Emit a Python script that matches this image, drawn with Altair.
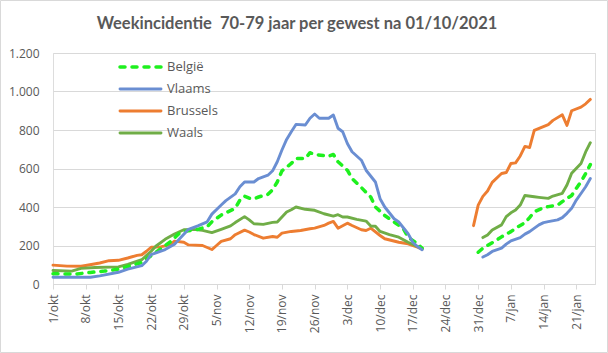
import altair as alt
import pandas as pd

TITLE = "Weekincidentie  70-79 jaar per gewest na 01/10/2021"
SERIES = ["België", "Vlaams", "Brussels", "Waals"]
COLORS = ["#1EF01E", "#6A8ED2", "#ED7D31", "#70AD47"]
DRAW_ORDER = ["Brussels", "Waals", "België", "Vlaams"]
START = "2021-10-01"          # day 0
END_DAY = 116                 # 25/jan
MONTHS_NL = ["jan", "feb", "mrt", "apr", "mei", "jun", "jul", "aug", "sep", "okt", "nov", "dec"]
X_TICK_DAYS = list(range(0, 113, 7))
Y_TICKS = [0, 200, 400, 600, 800, 1000, 1200]

# values (day offset from 1/okt/2021)
BELGIE_DAYS = [0, 5, 8, 11, 14, 16, 19, 21, 23, 25, 27, 29, 31, 33, 34, 36, 39, 40, 41, 42, 43, 44, 46, 47, 48, 49,
               51, 52, 54, 55, 56, 59, 60, 61, 63, 64, 66, 68, 69, 71, 73, 75, 76, 78, 79,
               91, 92, 93, 95, 96, 98, 99, 101, 102, 103, 105, 106, 108, 109, 111, 112, 113, 114, 115]
BELGIE_VALS = [53, 52, 60, 67, 77, 91, 112, 147, 182, 217, 263, 277, 284, 298, 323, 358, 393, 436, 456, 446, 443, 452,
               466, 490, 530, 588, 626, 652, 652, 682, 673, 664, 673, 635, 591, 548, 501, 452, 400, 356, 322, 287, 243,
               209, 186,
               165, 186, 200, 229, 245, 272, 290, 318, 345, 375, 397, 402, 410, 428, 460, 497, 531, 574, 620]

VLAAMS_DAYS = [0, 8, 10, 14, 16, 19, 20, 21, 24, 26, 28, 29, 31, 33, 34, 36, 37, 39, 40, 41, 43, 44, 46, 47, 48, 49,
               50, 51, 52, 54, 55, 56, 57, 59, 60, 61, 62, 63, 64, 66, 67, 69, 70, 71, 73, 74, 76, 77, 78, 79,
               92, 93, 94, 96, 97, 98, 100, 101, 102, 104, 105, 106, 108, 109, 110, 111, 112, 113, 114, 115]
VLAAMS_VALS = [35, 35, 42, 61, 77, 95, 118, 153, 179, 207, 258, 284, 302, 323, 363, 410, 433, 468, 505, 530, 530, 548,
               565, 588, 635, 696, 751, 791, 829, 826, 861, 883, 861, 861, 878, 809, 791, 730, 687, 643, 591, 530, 443,
               400, 339, 322, 261, 217, 195, 178,
               140, 152, 169, 186, 207, 224, 241, 259, 272, 307, 319, 324, 333, 345, 367, 393, 436, 470, 505, 548]

BRUSSELS_DAYS = [0, 3, 6, 7, 10, 12, 14, 16, 18, 19, 20, 21, 23, 25, 26, 28, 29, 32, 34, 35, 36, 38, 39, 41, 42, 43,
                 45, 47, 48, 49, 51, 53, 55, 56, 58, 59, 60, 61, 63, 64, 66, 67, 68, 70, 71, 74, 76, 78, 79,
                 90, 91, 92, 93, 94, 96, 97, 98, 99, 100, 101, 102, 103, 106, 107, 109, 110, 111, 113, 114, 115]
BRUSSELS_VALS = [98, 93, 92, 96, 109, 121, 123, 135, 149, 152, 170, 191, 193, 203, 223, 217, 203, 200, 179, 200, 221,
                 235, 256, 280, 270, 257, 238, 247, 243, 264, 273, 278, 287, 290, 304, 316, 325, 290, 316, 304, 282,
                 278, 290, 252, 235, 217, 209, 191, 181,
                 303, 410, 455, 483, 528, 574, 579, 626, 629, 665, 715, 709, 798, 828, 850, 879, 824, 900, 919, 936,
                 959]

WAALS_DAYS = [0, 4, 6, 9, 14, 16, 19, 21, 22, 24, 26, 28, 30, 32, 34, 36, 38, 39, 41, 42, 43, 45, 47, 48, 50, 51, 52,
              54, 56, 58, 60, 61, 62, 63, 65, 67, 68, 69, 70, 72, 74, 76, 78, 79,
              92, 93, 94, 96, 97, 98, 99, 100, 101, 103, 104, 106, 107, 109, 110, 111, 113, 114, 115]
WAALS_VALS = [70, 67, 81, 86, 89, 102, 126, 170, 196, 232, 260, 282, 284, 279, 267, 284, 302, 319, 350, 333, 313, 310,
              320, 322, 374, 386, 400, 388, 383, 365, 353, 360, 348, 348, 336, 327, 301, 300, 273, 257, 243, 217, 195,
              186,
              241, 255, 281, 307, 350, 370, 384, 410, 460, 453, 450, 445, 457, 471, 514, 575, 626, 686, 734]

SERIES_DATA = {
    "België": (BELGIE_DAYS, BELGIE_VALS),
    "Vlaams": (VLAAMS_DAYS, VLAAMS_VALS),
    "Brussels": (BRUSSELS_DAYS, BRUSSELS_VALS),
    "Waals": (WAALS_DAYS, WAALS_VALS),
}
COLOR_OF = dict(zip(SERIES, COLORS))
GAP_DAYS = 10  # no data between 20/dec and 29/dec

start = pd.Timestamp(START)
rows = []
for name, (days, vals) in SERIES_DATA.items():
    seg = 0
    prev = None
    for d, v in zip(days, vals):
        if prev is not None and d - prev >= GAP_DAYS:
            seg += 1
        prev = d
        rows.append({"series": name, "date": (start + pd.Timedelta(days=d)).strftime("%Y-%m-%d"),
                     "value": v, "seg": seg})
df = pd.DataFrame(rows)


def dt(day):
    t = start + pd.Timedelta(days=day)
    return alt.DateTime(year=t.year, month=t.month, date=t.day, utc=True)


month_arr = "[" + ",".join("'" + m + "'" for m in MONTHS_NL) + "]"

x_enc = alt.X(
    "date:T",
    scale=alt.Scale(type="utc", domain=[dt(0), dt(END_DAY)], nice=False),
    axis=alt.Axis(
        values=[dt(d) for d in X_TICK_DAYS],
        labelExpr="utcdate(datum.value) + '/' + " + month_arr + "[utcmonth(datum.value)]",
        labelAngle=270,
        labelAlign="right",
        labelBaseline="middle",
        labelFont="Open Sans",
        labelFontSize=12,
        labelColor="#595959",
        labelPadding=5,
        labelOverlap=False,
        labelFlush=False,
        tickSize=5,
        tickColor="#D9D9D9",
        domainColor="#D9D9D9",
        grid=False,
        title=None,
    ),
)
y_enc = alt.Y(
    "value:Q",
    scale=alt.Scale(domain=[0, 1200], nice=False),
    axis=alt.Axis(
        values=Y_TICKS,
        labelExpr="replace(format(datum.value, ','), ',', '.')",
        labelFont="Open Sans",
        labelFontSize=12,
        labelColor="#595959",
        labelPadding=14,
        ticks=False,
        domain=False,
        grid=True,
        gridColor="#D9D9D9",
        gridWidth=1,
        title=None,
    ),
)

layers = []
# chart border
layers.append(
    alt.Chart(pd.DataFrame({"a": [0]})).mark_rect(fillOpacity=0, stroke="#D9D9D9", strokeWidth=1).encode(
        x=alt.value(-52.5), x2=alt.value(554.5), y=alt.value(-52.5), y2=alt.value(299.5)
    )
)
# title as text above the plot (keep the double space visible)
layers.append(
    alt.Chart(pd.DataFrame({"t": [TITLE.replace("  ", " \u00a0")]})).mark_text(
        font="Lato", fontSize=16.5, fontWeight="bold", color="#595959", align="center", baseline="middle"
    ).encode(x=alt.value(244), y=alt.value(-29), text="t:N")
)
for name in DRAW_ORDER:
    color = COLOR_OF[name]
    dashed = name == "België"
    mark_kw = dict(color=color, strokeWidth=3.5 if dashed else 2.9, strokeCap="round", strokeJoin="round")
    if dashed:
        mark_kw["strokeDash"] = [5, 7]
    layers.append(
        alt.Chart(df[df.series == name]).mark_line(**mark_kw).encode(x=x_enc, y=y_enc, detail="seg:N")
    )

# legend inside plot, top-left
for i, (name, color) in enumerate(zip(SERIES, COLORS)):
    ypos = 14 + 22 * i
    dashed = name == "België"
    rkw = dict(color=color, strokeWidth=3.5 if dashed else 2.9, strokeCap="round")
    if dashed:
        rkw["strokeDash"] = [5, 7]
    ld = pd.DataFrame({"name": [name]})
    layers.append(alt.Chart(ld).mark_rule(**rkw).encode(x=alt.value(67), x2=alt.value(108), y=alt.value(ypos)))
    layers.append(
        alt.Chart(ld).mark_text(align="left", baseline="middle", font="Open Sans", fontSize=13, color="#595959").encode(
            x=alt.value(114), y=alt.value(ypos), text="name:N"
        )
    )

chart = alt.layer(*layers).properties(
    width=542,
    height=231,
    autosize="none",
    padding={"left": 53, "top": 53, "right": 13, "bottom": 69},
).configure_view(stroke=None).configure(background="white")

chart.save("out.html", embed_options={"renderer": "svg", "actions": False})
